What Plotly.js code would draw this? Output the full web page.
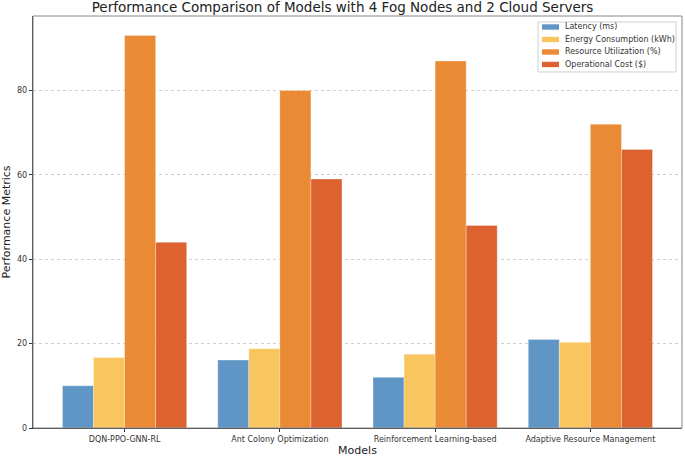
<!DOCTYPE html>
<html>
<head>
<meta charset="utf-8">
<script src="https://cdn.plot.ly/plotly-3.0.1.min.js"></script>
<style>
  html, body { margin: 0; padding: 0; background: #fff; }
  #chart { width: 685px; height: 457px; }
</style>
</head>
<body>
<div id="chart"></div>
<script>
// models on the x axis
const models = ["DQN-PPO-GNN-RL", "Ant Colony Optimization", "Reinforcement Learning-based", "Adaptive Resource Management"];

// one array per metric
const latency = [10, 16.1, 12, 21];
const energy = [16.7, 18.8, 17.5, 20.3];
const utilization = [93, 80, 87, 72];
const cost = [44, 59, 48, 66];

const seriesNames = ["Latency (ms)", "Energy Consumption (kWh)", "Resource Utilization (%)", "Operational Cost ($)"];
const seriesColors = ["#5f96c5", "#f8c55f", "#ea8a34", "#dc6330"];
const yTicks = [0, 20, 40, 60, 80];

const barWidth = 0.2;
const idx = models.map((m, i) => i);

const traces = [latency, energy, utilization, cost].map((vals, k) => ({
  type: "bar",
  x: idx,
  y: vals,
  name: seriesNames[k],
  width: barWidth,
  offset: (k - 2) * barWidth,
  marker: {
    color: seriesColors[k],
    line: { color: "rgba(255,255,255,0.5)", width: 0.6 }
  },
  hoverinfo: "y+name"
}));

// matplotlib-style legend box drawn in paper coords (plot area is 649 x 412 px)
const plotW = 649, plotH = 412.3;
const px = v => v / plotW, py = v => v / plotH;
const legLeft = 1 - px(144), legRight = 1 - px(6);
const legTop = 1 - py(6), legBottom = 1 - py(56);
const rowY = k => legTop - py(5 + k * 12.5);

const legendShapes = [{
  type: "rect", xref: "paper", yref: "paper",
  x0: legLeft, x1: legRight, y0: legBottom, y1: legTop,
  fillcolor: "rgba(255,255,255,0.85)",
  line: { color: "#d0d0d0", width: 1 },
  layer: "above"
}];
const legendNotes = [];
seriesNames.forEach((name, k) => {
  legendShapes.push({
    type: "rect", xref: "paper", yref: "paper",
    x0: legLeft + px(4), x1: legLeft + px(21),
    y0: rowY(k) - py(2.7), y1: rowY(k) + py(2.7),
    fillcolor: seriesColors[k],
    line: { width: 0 },
    layer: "above"
  });
  legendNotes.push({
    xref: "paper", yref: "paper",
    x: legLeft + px(25), y: rowY(k),
    xanchor: "left", yanchor: "middle",
    text: name, showarrow: false,
    font: { size: 8, color: "#333" }
  });
});

const layout = {
  width: 685,
  height: 457,
  paper_bgcolor: "#fff",
  plot_bgcolor: "#fff",
  font: { family: "DejaVu Sans, sans-serif", color: "#222" },
  margin: { l: 33, r: 3, t: 16, b: 29 },
  title: {
    text: "Performance Comparison of Models with 4 Fog Nodes and 2 Cloud Servers",
    font: { size: 13.5, color: "#222" },
    x: 0.5, xanchor: "center",
    y: 0.995, yanchor: "top"
  },
  barmode: "overlay",
  showlegend: false,
  xaxis: {
    range: [-0.59, 3.59],
    tickvals: idx,
    ticktext: models,
    tickfont: { size: 8, color: "#333" },
    ticks: "outside", ticklen: 3, tickcolor: "#333",
    showgrid: false,
    zeroline: false,
    showline: true, linecolor: "#333", linewidth: 1.2,
    title: { text: "Models", font: { size: 11, color: "#222" }, standoff: 3 }
  },
  yaxis: {
    range: [0, 97.65],
    tickvals: yTicks,
    tickfont: { size: 8, color: "#333" },
    ticks: "outside", ticklen: 3, tickcolor: "#333",
    showgrid: true, gridcolor: "#cfcfcf", griddash: "dot", gridwidth: 1,
    zeroline: false,
    showline: true, linecolor: "#333", linewidth: 1.2,
    title: { text: "Performance Metrics", font: { size: 11, color: "#222" }, standoff: 6 }
  },
  shapes: [{
    type: "rect", xref: "paper", yref: "paper",
    x0: 0, x1: 1, y0: 0, y1: 1,
    line: { color: "#888", width: 1 },
    layer: "above"
  }].concat(legendShapes),
  annotations: legendNotes
};

Plotly.newPlot("chart", traces, layout, { displayModeBar: false, staticPlot: true });
</script>
</body>
</html>
